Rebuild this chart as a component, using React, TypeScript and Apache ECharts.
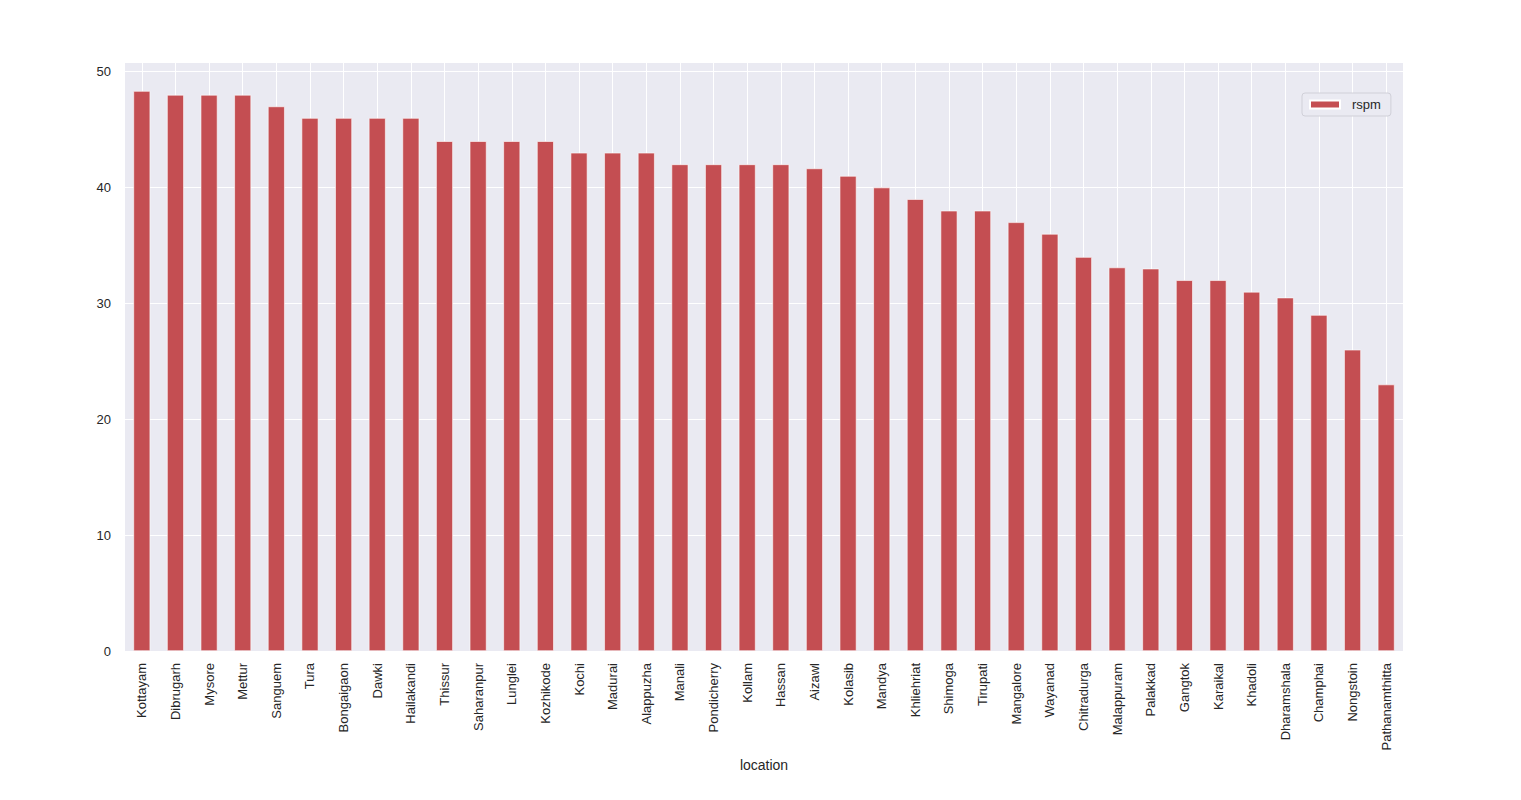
import React, { useEffect, useRef } from "react";
import * as echarts from "echarts";

const categories: string[] = [
  "Kottayam", "Dibrugarh", "Mysore", "Mettur", "Sanguem", "Tura", "Bongaigaon", "Dawki",
  "Hailakandi", "Thissur", "Saharanpur", "Lunglei", "Kozhikode", "Kochi", "Madurai",
  "Alappuzha", "Manali", "Pondicherry", "Kollam", "Hassan", "Aizawl", "Kolasib", "Mandya",
  "Khliehriat", "Shimoga", "Tirupati", "Mangalore", "Wayanad", "Chitradurga", "Malappuram",
  "Palakkad", "Gangtok", "Karaikal", "Khadoli", "Dharamshala", "Champhai", "Nongstoin",
  "Pathanamthitta",
];

const rspm: number[] = [
  48.33, 48, 48, 48, 47, 46, 46, 46,
  46, 44, 44, 44, 44, 43, 43,
  43, 42, 42, 42, 42, 41.65, 41, 40,
  39, 38, 38, 37, 36, 34, 33.1,
  33, 32, 32, 31, 30.5, 29, 26,
  23,
];

const seriesName = "rspm";
const xAxisName = "location";
const yMax = 50.75;
const yInterval = 10;

const FONT = "'Liberation Sans', Arial, Helvetica, sans-serif";

export default function App() {
  const ref = useRef<HTMLDivElement>(null);

  useEffect(() => {
    if (!ref.current) return;
    const chart = echarts.init(ref.current, undefined, { renderer: "svg" });
    chart.setOption({
      animation: false,
      backgroundColor: "#ffffff",
      textStyle: { fontFamily: FONT },
      grid: {
        left: 125,
        right: 118,
        top: 63,
        bottom: 149,
        show: true,
        backgroundColor: "#EAEAF2",
        borderWidth: 0,
      },
      legend: {
        show: true,
        data: [seriesName],
        left: 1302,
        top: 93,
        orient: "vertical",
        padding: [5, 10, 5, 7],
        itemWidth: 30,
        itemHeight: 8,
        itemGap: 6,
        backgroundColor: "#EAEAF2",
        borderColor: "#D0D0D8",
        borderWidth: 1,
        borderRadius: 3,
        textStyle: { fontSize: 13, color: "#262626", fontFamily: FONT, padding: [0, 0, 0, 7] },
        icon: "rect",
      },
      xAxis: {
        type: "category",
        data: categories,
        boundaryGap: true,
        name: xAxisName,
        nameLocation: "middle",
        nameGap: 104,
        nameTextStyle: { fontSize: 14, color: "#262626", fontFamily: FONT },
        axisLine: { show: false },
        axisTick: { show: false },
        splitLine: { show: false },
        axisLabel: {
          interval: 0,
          rotate: 90,
          margin: 12,
          fontSize: 13,
          color: "#262626",
          fontFamily: FONT,
        },
      },
      yAxis: {
        type: "value",
        min: 0,
        max: yMax,
        interval: yInterval,
        axisLine: { show: false },
        axisTick: { show: false },
        axisLabel: {
          fontSize: 13,
          color: "#262626",
          margin: 14,
          showMaxLabel: false,
          fontFamily: FONT,
        },
        splitLine: {
          show: true,
          showMaxLine: false,
          lineStyle: { color: "#ffffff", width: 1 },
        },
      },
      series: [
        {
          name: seriesName,
          type: "bar",
          data: rspm,
          barWidth: "50%",
          z: 2,
          itemStyle: {
            color: "#C44E52",
            borderColor: "#ffffff",
            borderWidth: 0.6,
          },
          markLine: {
            z: 1,
            silent: true,
            animation: false,
            symbol: ["none", "none"],
            label: { show: false },
            lineStyle: { color: "#ffffff", type: "solid", width: 1 },
            emphasis: { disabled: true },
            data: categories.map((c) => ({ xAxis: c })),
          },
        },
      ],
    });
    return () => chart.dispose();
  }, []);

  return (
    <div
      ref={ref}
      style={{ position: "fixed", left: 0, top: 0, width: 1521, height: 800 }}
    />
  );
}
